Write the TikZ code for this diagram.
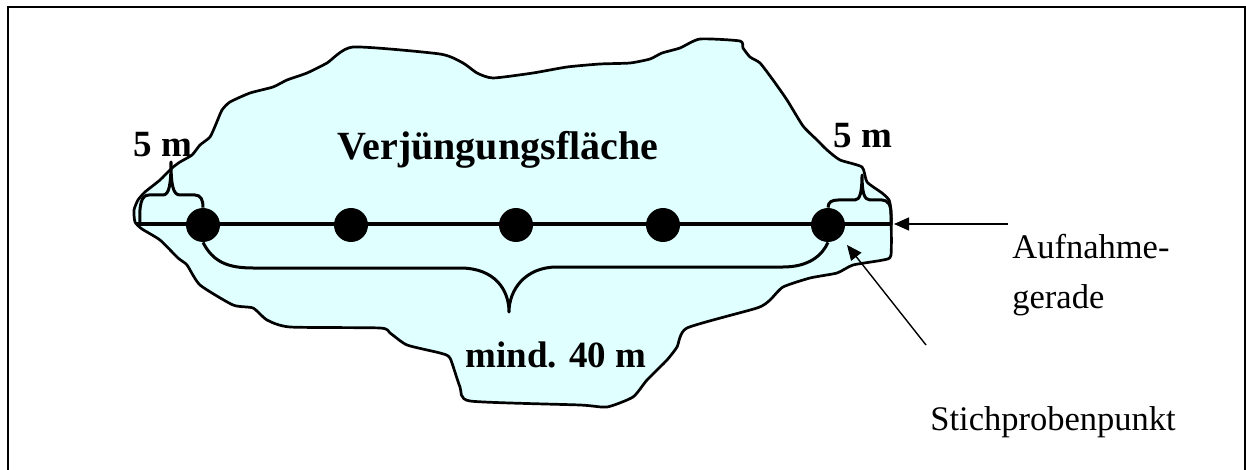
\documentclass[tikz,border=0pt]{standalone}
\usepackage{fontspec}
\setmainfont{Liberation Serif}
\usetikzlibrary{arrows.meta}
\definecolor{areafill}{RGB}{224,255,255}
\tikzset{
  outline/.style={draw=black, line width=1.35pt, fill=areafill, line join=round},
  gline/.style={draw=black, line width=2pt},
  brace/.style={draw=black, line width=1.5pt, line join=round},
  dotnode/.style={circle, fill=black, inner sep=0pt, minimum size=17pt},
  boldlabel/.style={font=\fontsize{18.5}{22}\selectfont\bfseries, inner sep=0pt, anchor=base west},
  titlelabel/.style={font=\fontsize{20}{24}\selectfont\bfseries, inner sep=0pt, anchor=base west},
  plainlabel/.style={font=\fontsize{17.25}{21}\selectfont, inner sep=0pt, anchor=base west},
  pointer/.style={draw=black, line width=0.7pt, -{Triangle[length=7.5pt,width=6.5pt]}},
  frameline/.style={draw=black, line width=1pt}
}
\begin{document}
\begin{tikzpicture}[x=0.5pt,y=-0.5pt]
\useasboundingbox (0,0) rectangle (1246,470);
% frame
\draw[frameline] (8,480) -- (8,7) -- (1244.5,7) -- (1244.5,480);
% area
\path[outline] plot[smooth cycle, tension=0.35] coordinates {
(135,222) (134,210) (138,200) (145,192) (160,180) (172,168) (180,162) (192,155)
(200,145) (210,137) (216,124) (222,110) (230,102) (250,93) (273,87) (287,80)
(307,73) (327,63) (353,47) (440,54) (463,63) (477,73) (493,78) (533,73)
(567,67) (600,64) (630,63) (650,59) (662,53) (680,48) (700,39) (740,41)
(743,48) (750,57) (760,63) (773,80) (787,100) (803,126) (817,140) (827,150)
(840,160) (862,167) (867,182) (882,193) (889,200) (891,212) (891,255) (883,260)
(853,265) (837,273) (810,278) (783,287) (770,300) (757,308) (687,328) (677,347)
(667,360) (647,380) (633,397) (607,407) (580,405) (470,401) (460,387) (450,358)
(440,353) (407,345) (390,333) (380,328) (290,327) (267,320) (253,308) (233,305)
(200,285) (187,265) (178,258) (160,240) (142,229)};
% line
\coordinate (gL) at (137,224);
\coordinate (gR) at (892,224);
\draw[gline] (gL) -- (gR);
% sample points
\node[dotnode] (p1) at (203,225) {};
\node[dotnode] (p2) at (351,225) {};
\node[dotnode] (p3) at (516,225) {};
\node[dotnode] (p4) at (663,225) {};
\node[dotnode] (p5) at (828,225) {};
% braces
\draw[brace] (140,225) .. controls (139,205) and (141,195) .. (149,195) -- (163,195)
  .. controls (169,195) and (171,185) .. (171,162)
  .. controls (171,185) and (173,195) .. (180,195) -- (195,195)
  .. controls (201,195) and (203,200) .. (p1.north);
\draw[brace] (p5.north) .. controls (828,202) and (832,200) .. (838,200) -- (855,200)
  .. controls (860,200) and (862,192) .. (862,175)
  .. controls (862,192) and (864,200) .. (870,200) -- (882,200)
  .. controls (888,200) and (891,205) .. (891,214) -- (891,225);
\draw[brace] (p1.south) .. controls (213,262) and (228,268) .. (253,268) -- (460,268)
  .. controls (495,268) and (509,290) .. (509,312)
  .. controls (509,290) and (525,267) .. (557,267) -- (783,267)
  .. controls (808,267) and (822,256) .. (p5.south);
% labels
\node[boldlabel] (fiveL) at (133,157) {5 m};
\node[boldlabel] (fiveR) at (833,148) {5 m};
\node[titlelabel] (title) at (337,160) {Verjüngungsfläche};
\node[boldlabel] (dist) at (465,367) {mind. 40 m};
\node[plainlabel] (aufA) at (1012,258) {Aufnahme-};
\node[plainlabel] (aufB) at (1012,308) {gerade};
\node[plainlabel] (stich) at (930,430) {Stichprobenpunkt};
% pointers
\coordinate (aufTail) at (1008,224);
\coordinate (aufTip) at (894,224);
\coordinate (stichTail) at (926,345);
\coordinate (stichTip) at (847,245);
\draw[pointer] (aufTail) -- (aufTip);
\draw[pointer] (stichTail) -- (stichTip);
\end{tikzpicture}
\end{document}
